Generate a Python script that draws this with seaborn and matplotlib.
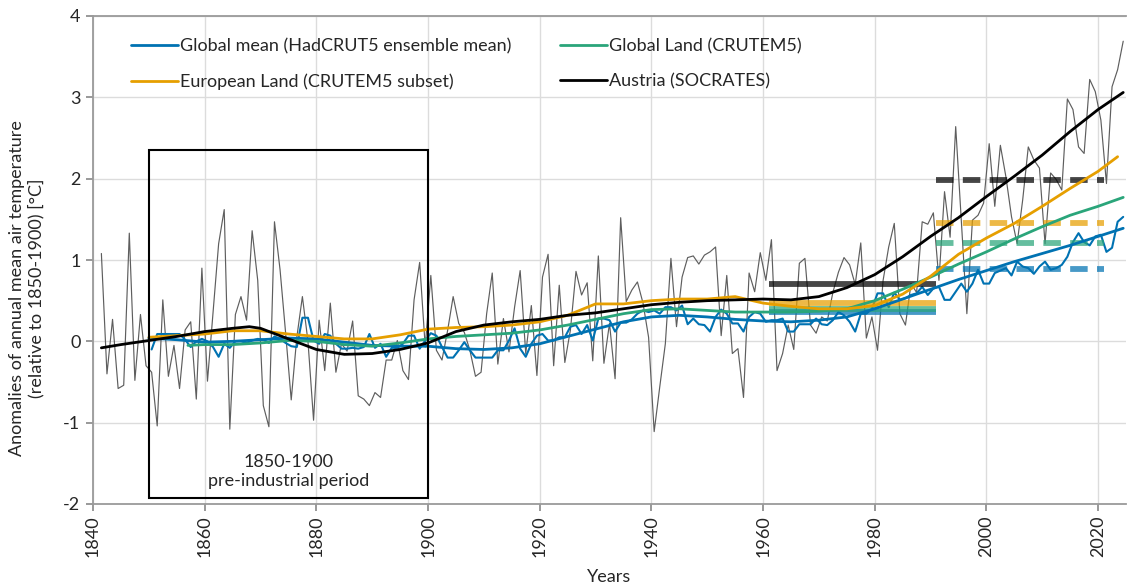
import numpy as np
import pandas as pd
import matplotlib
matplotlib.use("Agg")
import matplotlib.pyplot as plt
from matplotlib.patches import Rectangle
import seaborn as sns

# Austria (SOCRATES), annual anomalies rel. 1850-1900, 1841-2024
AUSTRIA_START = 1841
AUSTRIA_ANNUAL = [
    1.08, -0.40, 0.27, -0.58, -0.54, 1.33, -0.48, 0.33, -0.30,
    -0.38, -1.04, 0.51, -0.43, -0.05, -0.58, 0.14, 0.24, -0.71, 0.90,
    -0.49, 0.35, 1.20, 1.62, -1.08, 0.33, 0.55, 0.26, 1.36, 0.75,
    -0.79, -1.05, 1.47, 0.88, 0.10, -0.72, 0.05, 0.55, 0.00, -0.97,
    0.26, -0.36, 0.47, -0.38, -0.03, -0.12, 0.25, -0.67, -0.71, -0.79,
    -0.63, -0.69, -0.23, -0.23, 0.01, -0.36, -0.47, 0.51, 0.97, -0.07,
    0.81, -0.11, -0.23, 0.13, 0.55, 0.22, 0.11, -0.11, -0.43, -0.38,
    0.34, 0.84, -0.28, 0.28, -0.13, 0.42, 0.87, -0.15, 0.44, -0.42,
    0.79, 1.07, -0.30, 0.69, -0.26, 0.14, 0.86, 0.57, 0.72, -0.24,
    1.05, -0.27, 0.22, -0.46, 1.52, 0.49, 0.63, 0.73, 0.47, 0.05,
    -1.11, -0.56, -0.03, 1.02, 0.18, 0.79, 1.03, 1.05, 0.95, 1.06,
    1.10, 1.16, 0.07, 0.81, -0.15, -0.09, -0.69, 0.84, 0.61, 1.09,
    0.75, 1.25, -0.36, -0.15, 0.20, -0.10, 0.96, 1.02, 0.20, 0.10,
    0.30, 0.25, 0.60, 0.85, 1.03, 0.94, 0.70, 1.21, 0.04, 0.30,
    -0.11, 0.75, 1.16, 1.45, 0.34, 0.20, 0.71, 0.60, 1.47, 1.44,
    1.58, 0.75, 1.84, 1.28, 2.64, 1.49, 0.34, 1.49, 1.55, 1.70,
    2.43, 1.66, 2.41, 2.02, 1.53, 1.20, 1.74, 2.39, 2.23, 2.13,
    1.20, 2.07, 1.99, 1.86, 2.98, 2.85, 2.39, 2.31, 3.22, 3.07,
    2.72, 1.94, 3.13, 3.34, 3.69,
]

# Global mean (HadCRUT5), annual, 1850-2024
GLOBAL_START = 1850
GLOBAL_ANNUAL = [
    -0.10, 0.09, 0.09, 0.09, 0.09, 0.09, 0.02, -0.07, 0.00, 0.03,
    0.00, -0.07, -0.19, -0.03, -0.08, 0.00, 0.00, -0.02, 0.01, 0.03,
    0.02, -0.02, 0.06, 0.03, -0.02, -0.06, -0.07, 0.29, 0.29, 0.01,
    -0.03, 0.09, 0.07, -0.03, -0.09, -0.09, -0.08, -0.09, -0.07, 0.09,
    -0.08, -0.03, -0.19, -0.08, -0.08, -0.03, 0.07, 0.07, -0.09, 0.01,
    0.10, 0.07, -0.07, -0.20, -0.20, -0.11, -0.01, -0.11, -0.20, -0.20,
    -0.20, -0.20, -0.11, -0.11, 0.01, 0.16, -0.09, -0.19, -0.03, 0.07,
    0.09, 0.01, 0.01, 0.05, 0.05, 0.18, 0.20, 0.09, 0.20, 0.01,
    0.28, 0.28, 0.26, 0.12, 0.23, 0.23, 0.27, 0.34, 0.38, 0.36,
    0.38, 0.34, 0.42, 0.42, 0.38, 0.44, 0.21, 0.28, 0.21, 0.20,
    0.12, 0.30, 0.39, 0.34, 0.22, 0.22, 0.12, 0.30, 0.36, 0.34,
    0.24, 0.26, 0.26, 0.28, 0.12, 0.12, 0.21, 0.21, 0.21, 0.28,
    0.21, 0.20, 0.26, 0.36, 0.32, 0.24, 0.12, 0.34, 0.34, 0.40,
    0.59, 0.59, 0.42, 0.60, 0.51, 0.53, 0.57, 0.59, 0.67, 0.57,
    0.65, 0.67, 0.51, 0.51, 0.61, 0.71, 0.61, 0.71, 0.88, 0.71,
    0.71, 0.84, 0.87, 0.90, 0.81, 0.98, 0.92, 0.90, 0.83, 0.92,
    0.98, 0.88, 0.90, 0.94, 1.04, 1.22, 1.33, 1.22, 1.18, 1.29,
    1.31, 1.10, 1.15, 1.47, 1.53,
]

# smoothed curves
GLOBAL_SMOOTH_YEARS = [1850, 1855, 1860, 1865, 1870, 1875, 1880, 1885, 1890, 1895,
                       1900, 1905, 1910, 1915, 1920, 1925, 1930, 1935, 1940, 1945,
                       1950, 1955, 1960, 1965, 1970, 1975, 1980, 1985, 1990, 1995,
                       2000, 2005, 2010, 2015, 2020, 2024.5]
GLOBAL_SMOOTH = [0.04, 0.02, -0.01, 0.00, 0.02, 0.04, 0.03, -0.01, -0.05, -0.06,
                 -0.06, -0.09, -0.10, -0.08, -0.03, 0.06, 0.15, 0.24, 0.30, 0.32,
                 0.30, 0.27, 0.25, 0.24, 0.26, 0.30, 0.40, 0.52, 0.64, 0.76,
                 0.87, 0.98, 1.08, 1.18, 1.29, 1.39]

LAND_SMOOTH_YEARS = [1857, 1860, 1865, 1870, 1875, 1880, 1885, 1890, 1895,
                     1900, 1905, 1910, 1915, 1920, 1925, 1930, 1935, 1940, 1945,
                     1950, 1955, 1960, 1965, 1970, 1975, 1980, 1985, 1990, 1995,
                     2000, 2005, 2010, 2015, 2020, 2024.5]
LAND_SMOOTH = [-0.05, -0.04, -0.04, -0.02, 0.01, 0.00, -0.04, -0.06, -0.02,
               0.03, 0.06, 0.08, 0.10, 0.14, 0.20, 0.27, 0.34, 0.39, 0.40,
               0.38, 0.36, 0.36, 0.36, 0.37, 0.40, 0.50, 0.64, 0.79, 0.95,
               1.10, 1.26, 1.41, 1.55, 1.66, 1.77]

EUROPE_SMOOTH_YEARS = [1850, 1855, 1860, 1865, 1870, 1875, 1880, 1885, 1890, 1895,
                       1900, 1905, 1910, 1915, 1920, 1925, 1930, 1935, 1940, 1945,
                       1950, 1955, 1960, 1965, 1970, 1975, 1980, 1985, 1990, 1995,
                       2000, 2005, 2010, 2015, 2020, 2023.5]
EUROPE_SMOOTH = [0.05, 0.07, 0.09, 0.13, 0.13, 0.09, 0.06, 0.03, 0.03, 0.08,
                 0.15, 0.17, 0.18, 0.20, 0.24, 0.32, 0.46, 0.46, 0.50, 0.52,
                 0.52, 0.55, 0.47, 0.43, 0.40, 0.40, 0.44, 0.58, 0.80, 1.07,
                 1.27, 1.45, 1.66, 1.88, 2.09, 2.27]

AUSTRIA_SMOOTH_YEARS = [1841.5, 1845, 1850, 1855, 1860, 1865, 1868, 1870, 1875, 1880,
                        1885, 1890, 1895, 1900, 1905, 1910, 1915, 1920, 1925, 1930,
                        1935, 1940, 1945, 1950, 1955, 1960, 1965, 1970, 1975, 1980,
                        1985, 1990, 1995, 2000, 2005, 2010, 2015, 2020, 2024.5]
AUSTRIA_SMOOTH = [-0.08, -0.04, 0.01, 0.06, 0.12, 0.16, 0.18, 0.16, 0.03, -0.10,
                  -0.16, -0.15, -0.10, -0.02, 0.12, 0.20, 0.24, 0.27, 0.32, 0.35,
                  0.40, 0.45, 0.48, 0.50, 0.51, 0.52, 0.51, 0.55, 0.66, 0.82,
                  1.04, 1.29, 1.52, 1.78, 2.03, 2.29, 2.58, 2.85, 3.06]

SERIES = ['Global mean (HadCRUT5 ensemble mean)', 'Global Land (CRUTEM5)',
          'European Land (CRUTEM5 subset)', 'Austria (SOCRATES)']
COLORS = ['#0072B2', '#2AA57A', '#E69F00', '#000000']
MEAN_1961_1990 = [0.36, 0.40, 0.47, 0.70]
MEAN_1991_2020 = [0.89, 1.21, 1.46, 1.98]
PERIOD_A = (1961, 1991)
PERIOD_B = (1991, 2021)

sns.set_theme(style="whitegrid")
plt.rcParams['font.family'] = ['Lato', 'DejaVu Sans']
plt.rcParams['axes.unicode_minus'] = False

fig = plt.figure(figsize=(11.28, 5.86), dpi=100)
ax = fig.add_axes([93 / 1128, 1 - 504 / 586, 1033 / 1128, 488 / 586])

austria = pd.DataFrame({'year': np.arange(AUSTRIA_START, AUSTRIA_START + len(AUSTRIA_ANNUAL)) + 0.5,
                        'val': AUSTRIA_ANNUAL})
glob = pd.DataFrame({'year': np.arange(GLOBAL_START, GLOBAL_START + len(GLOBAL_ANNUAL)) + 0.5,
                     'val': GLOBAL_ANNUAL})

sns.lineplot(data=austria, x='year', y='val', ax=ax, color='#5e5e5e', lw=0.85, zorder=2)
sns.lineplot(data=glob, x='year', y='val', ax=ax, color=COLORS[0], lw=1.5, zorder=3)

# reference period means
for val_a, val_b, col in zip(MEAN_1961_1990, MEAN_1991_2020, COLORS):
    ax.hlines(val_a, *PERIOD_A, color=col, lw=4.2, alpha=0.72, zorder=3)
    ax.hlines(val_b, *PERIOD_B, color=col, lw=4.2, alpha=0.72, zorder=3,
              linestyles=(0, (3.0, 1.6)))

smooth = [(GLOBAL_SMOOTH_YEARS, GLOBAL_SMOOTH), (LAND_SMOOTH_YEARS, LAND_SMOOTH),
          (EUROPE_SMOOTH_YEARS, EUROPE_SMOOTH), (AUSTRIA_SMOOTH_YEARS, AUSTRIA_SMOOTH)]
for (yrs, vals), col, name in zip(smooth, COLORS, SERIES):
    sns.lineplot(x=yrs, y=vals, ax=ax, color=col, lw=2.0, label=name, zorder=4)

# pre-industrial box
ax.add_patch(Rectangle((1850, -1.93), 50, 4.28, fill=False, ec='black', lw=1.5, zorder=5))
ax.text(1875, -1.6, '1850-1900\npre-industrial period', ha='center', va='center',
        fontsize=13, linespacing=1.3)

ax.set_xlim(1840, 2025)
ax.set_ylim(-2, 4)
ax.set_xticks(range(1840, 2021, 20))
ax.set_yticks(range(-2, 5))
ax.tick_params(axis='x', rotation=90, labelsize=13, length=5, color='#8c8c8c', pad=3)
ax.tick_params(axis='y', labelsize=13, length=5, color='#8c8c8c', pad=4)
ax.tick_params(bottom=True, left=True)
ax.grid(True, color='#dcdcdc', lw=1)
for side in ['left', 'bottom', 'top']:
    ax.spines[side].set_color('#9a9a9a')
    ax.spines[side].set_linewidth(1.3)
ax.spines['right'].set_visible(False)
ax.set_xlabel('Years', fontsize=13, labelpad=9)
ax.set_ylabel('')
fig.text(27 / 1128, 1 - 288 / 586,
         'Anomalies of annual mean air temperature\n(relative to 1850-1900) [°C]',
         rotation=90, ha='center', va='center', fontsize=13, multialignment='center')

handles, labels = ax.get_legend_handles_labels()
order = [SERIES[0], SERIES[2], SERIES[1], SERIES[3]]
hmap = dict(zip(labels, handles))
ax.legend([hmap[k] for k in order], order, ncol=2, loc='upper left',
          bbox_to_anchor=(0.037, 0.954), frameon=False, fontsize=13,
          handlelength=2.6, handletextpad=0.1, columnspacing=2.7,
          labelspacing=1.05, borderpad=0, borderaxespad=0)

fig.savefig('out.png', dpi=100)
